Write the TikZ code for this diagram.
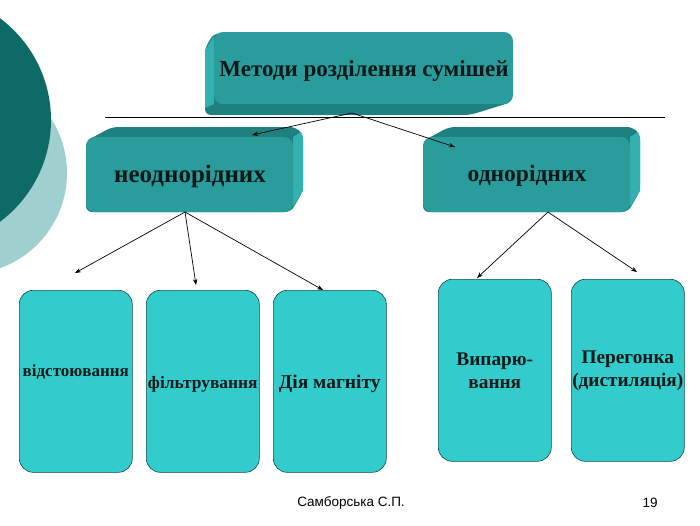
\documentclass[tikz,border=0pt]{standalone}
\usepackage{fontspec}
\setmainfont{Liberation Serif}
\newfontfamily\footfont{Liberation Sans}
\usetikzlibrary{arrows.meta}
\definecolor{circdark}{HTML}{0E6A66}
\definecolor{circlight}{HTML}{9FCFCF}
\definecolor{face}{HTML}{2A9C9C}
\definecolor{extdark}{HTML}{1F8080}
\definecolor{extlight}{HTML}{33B0B0}
\definecolor{leaf}{HTML}{33CCCC}
\definecolor{leafline}{HTML}{0F4A48}
\definecolor{ink}{HTML}{061818}
\tikzset{
  conn/.style={draw=black, line width=0.7pt, -{Stealth[length=6pt,width=4.5pt]}},
  leafbox/.style={rectangle, rounded corners=14pt, draw=leafline, line width=0.6pt, fill=leaf,
    minimum width=113pt, minimum height=182pt, inner sep=0pt, anchor=north west, text=ink,
    font=\bfseries, align=center},
  headtext/.style={text=ink, font=\fontsize{23}{26}\selectfont\bfseries, inner sep=0pt},
}
\begin{document}
\begin{tikzpicture}[x=1pt,y=-1pt]
\useasboundingbox (0,0) rectangle (700,525);
\fill[white] (0,0) rectangle (700,525);
% decorative circles
\begin{scope}
\clip (0,0) rectangle (700,525);
\fill[circlight] (-34,173) circle[radius=101];
\fill[circdark] (-76,120) circle[radius=127];
\end{scope}
% top box
\fill[extdark, rounded corners=6pt] (214,33) -- (205,48) -- (205,115) -- (470,115) -- (512,102) -- (512,60) -- cycle;
\fill[extlight] (214,36) -- (205,50) -- (205,108) -- (214,104) -- cycle;
\fill[face, rounded corners=9pt] (214,32) rectangle (513,104);
\node[headtext] (top) at (364,71) {Методи розділення сумішей};
% separator line
\draw[line width=0.6pt] (105,117) -- (665,117);
% middle boxes
\begin{scope}[shift={(86,127)}]
\fill[extdark, rounded corners=6pt] (0,14) -- (26,0) -- (210,0) -- (217,8) -- (217,64) -- (205,85) -- (0,85) -- cycle;
\fill[extlight] (207,10) -- (215,5) -- (217,10) -- (217,64) -- (207,80) -- cycle;
\fill[face, rounded corners=9pt] (0,10) rectangle (207,85);
\end{scope}
\node[headtext, font=\fontsize{25}{28}\selectfont\bfseries] (het) at (190,176) {неоднорідних};
\begin{scope}[shift={(423,127)}]
\fill[extdark, rounded corners=6pt] (0,14) -- (26,0) -- (210,0) -- (217,8) -- (217,64) -- (205,85) -- (0,85) -- cycle;
\fill[extlight] (207,10) -- (215,5) -- (217,10) -- (217,64) -- (207,80) -- cycle;
\fill[face, rounded corners=9pt] (0,10) rectangle (207,85);
\end{scope}
\node[headtext, font=\fontsize{23.5}{27}\selectfont\bfseries] (hom) at (527,176) {однорідних};
% leaf boxes
\node[leafbox, font=\fontsize{17}{20}\selectfont\bfseries, text height=3pt, text depth=13pt] (b1) at (19,290) {відстоювання};
\node[leafbox, font=\fontsize{17.4}{20}\selectfont\bfseries, text height=14pt, text depth=0pt] (b2) at (146,290) {фільтрування};
\node[leafbox, font=\fontsize{19.5}{22}\selectfont\bfseries, text height=14pt, text depth=0pt] (b3) at (273,290) {Дія магніту};
\node[leafbox, font=\fontsize{19.3}{23}\selectfont\bfseries] (b4) at (438,279) {Випарю-\\вання};
\node[leafbox, font=\fontsize{19.3}{23}\selectfont\bfseries] (b5) at (571,279) {Перегонка\\(дистиляція)};
% connector coordinates
\coordinate (tops) at (352,113);
\coordinate (hett) at (252,135);
\coordinate (homt) at (455,147);
\coordinate (hets) at (185,212);
\coordinate (homs) at (548,212);
\coordinate (b1t) at (75,273);
\coordinate (b2t) at (196,285);
\coordinate (b3t) at (323,290);
\coordinate (b4t) at (477,278);
\coordinate (b5t) at (637,272);
\draw[conn] (tops) -- (hett);
\draw[conn] (tops) -- (homt);
\draw[conn] (hets) -- (b1t);
\draw[conn] (hets) -- (b2t);
\draw[conn] (hets) -- (b3t);
\draw[conn] (homs) -- (b4t);
\draw[conn] (homs) -- (b5t);
% footer
\node[font=\footfont\fontsize{13.5}{15}\selectfont, inner sep=0pt] (author) at (351,503) {Самборська С.П.};
\node[font=\footfont\fontsize{13.5}{15}\selectfont, inner sep=0pt] (page) at (650,503) {19};
\end{tikzpicture}
\end{document}
